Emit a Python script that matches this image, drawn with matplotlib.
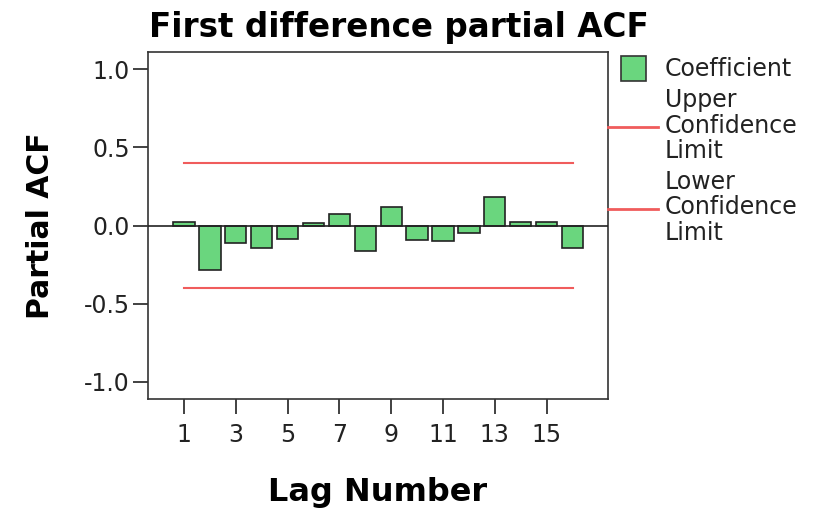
import numpy as np
import matplotlib
matplotlib.use("Agg")
from matplotlib import pyplot as plt
from matplotlib.lines import Line2D

# Data
lags = np.arange(1, 17)
pacf = [0.025, -0.284, -0.113, -0.145, -0.085, 0.015, 0.075, -0.165,
        0.117, -0.092, -0.100, -0.049, 0.180, 0.025, 0.025, -0.145]
upper_limit = 0.397
lower_limit = -0.397

bar_color = "#6ad67e"
limit_color = "#f05c5c"

plt.rcParams["font.family"] = ["DejaVu Sans"]

fig = plt.figure(figsize=(8.21, 5.08), dpi=100)
ax = fig.add_axes([148/821, 1 - 399/508, 460/821, 347/508])

# Bars for the coefficients
ax.bar(lags, pacf, width=0.82, color=bar_color, edgecolor="#222222",
       linewidth=1.2, zorder=2)
# Zero reference line
ax.axhline(0, color="#222222", linewidth=1.2, zorder=3)
# Confidence limits, only across the lags
ax.plot([lags[0], lags[-1]], [upper_limit, upper_limit], color=limit_color, linewidth=1.5, zorder=1)
ax.plot([lags[0], lags[-1]], [lower_limit, lower_limit], color=limit_color, linewidth=1.5, zorder=1)

ax.set_xlim(-0.39, 17.37)
ax.set_ylim(-1.11, 1.11)
ax.set_xticks(lags[::2])
ax.set_yticks([-1.0, -0.5, 0.0, 0.5, 1.0])
ax.set_yticklabels(["-1.0", "-0.5", "0.0", "0.5", "1.0"])

for side in ax.spines.values():
    side.set_color("#333333")
    side.set_linewidth(1.2)
ax.tick_params(axis="both", length=11, width=1.3, color="#333333",
               labelsize=17, labelcolor="#222222")
ax.tick_params(axis="y", pad=2)
ax.tick_params(axis="x", pad=6)

ax.set_xlabel("Lag Number", fontsize=23, fontweight="bold", labelpad=22)
ax.set_ylabel("Partial ACF", fontsize=21.5, fontweight="bold", labelpad=21)
fig.text(399/821, 1 - 37/508, "First difference partial ACF",
         fontsize=23.5, fontweight="bold", ha="center", va="baseline")

# Legend
handles = [
    Line2D([], [], marker="s", markersize=18, markerfacecolor=bar_color,
           markeredgecolor="#333333", markeredgewidth=1.2, linestyle="none"),
    Line2D([], [], color=limit_color, linewidth=2),
    Line2D([], [], color=limit_color, linewidth=2),
]
labels = ["Coefficient", "Upper\nConfidence\nLimit", "Lower\nConfidence\nLimit"]
leg = ax.legend(handles, labels, loc="upper left", bbox_to_anchor=(1.0, 0.985),
                frameon=False, fontsize=17, borderpad=0, borderaxespad=0,
                handlelength=2.1, handletextpad=0.3, labelspacing=0.3)
for t in leg.get_texts():
    t.set_linespacing(1.07)
    t.set_color("#222222")

fig.savefig("out.png", dpi=100)
